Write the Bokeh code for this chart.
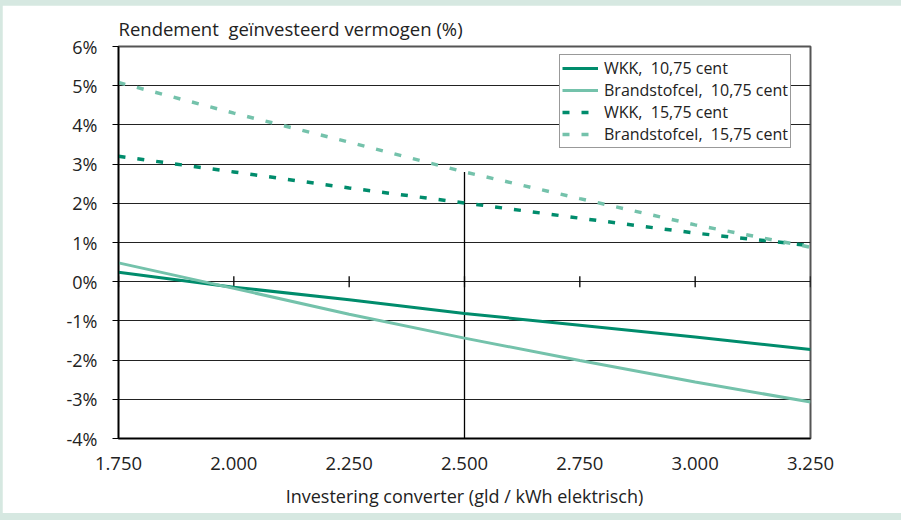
from bokeh.plotting import figure
from bokeh.layouts import column
from bokeh.models import Range1d, FixedTicker, PrintfTickFormatter, Legend, LegendItem
from bokeh.embed import file_html
from bokeh.resources import INLINE

# ---- data ----
x_invest = [1750, 2000, 2250, 2500, 2750, 3000, 3250]
wkk_1075 = [0.24, -0.14, -0.46, -0.81, -1.11, -1.41, -1.73]
bc_1075 = [0.48, -0.17, -0.83, -1.44, -2.01, -2.56, -3.07]
wkk_1575 = [3.20, 2.80, 2.39, 2.01, 1.62, 1.24, 0.92]
bc_1575 = [5.08, 4.30, 3.56, 2.80, 2.12, 1.45, 0.88]

x_ticks = [1750, 2000, 2250, 2500, 2750, 3000, 3250]
x_tick_labels = ["1.750", "2.000", "2.250", "2.500", "2.750", "3.000", "3.250"]
y_ticks = [-4, -3, -2, -1, 0, 1, 2, 3, 4, 5, 6]

title_text = "Rendement\u00a0 geïnvesteerd vermogen (%)"
x_title = "Investering converter (gld / kWh elektrisch)"
names = ["WKK,  10,75 cent", "Brandstofcel,  10,75 cent", "WKK,  15,75 cent", "Brandstofcel,  15,75 cent"]

DARK = "#008c6c"
LIGHT = "#74c2ab"
FONT = "Open Sans"
TXT = "#222222"

p = figure(width=899, height=508, output_backend="svg", toolbar_location=None,
           x_range=Range1d(1750, 3250), y_range=Range1d(-4, 6),
           min_border_left=116, min_border_right=91, min_border_top=41, min_border_bottom=75)
p.background_fill_color = "white"
p.border_fill_color = "white"
p.outline_line_color = "#555555"
p.outline_line_width = 2

p.title.text = title_text
p.title.align = "left"
p.title.text_font = FONT
p.title.text_font_size = "18.5px"
p.title.text_font_style = "normal"
p.title.text_color = TXT
p.title.offset = 0
p.title.standoff = 11

# axes
p.xaxis.ticker = FixedTicker(ticks=x_ticks)
p.xaxis.major_label_overrides = {t: l for t, l in zip(x_ticks, x_tick_labels)}
p.xaxis.major_tick_out = 0
p.xaxis.major_tick_in = 0
p.xaxis.minor_tick_line_color = None
p.xaxis.axis_line_color = "black"
p.xaxis.axis_line_width = 1.5
p.xaxis.major_label_text_font = FONT
p.xaxis.major_label_text_font_size = "18.5px"
p.xaxis.major_label_text_color = TXT
p.xaxis.major_label_standoff = 18
p.xaxis.axis_label = x_title
p.xaxis.axis_label_text_font = FONT
p.xaxis.axis_label_text_font_size = "18px"
p.xaxis.axis_label_text_font_style = "normal"
p.xaxis.axis_label_text_color = TXT
p.xaxis.axis_label_standoff = 11

p.yaxis.ticker = FixedTicker(ticks=y_ticks)
p.yaxis.formatter = PrintfTickFormatter(format="%d%%")
p.yaxis.major_tick_out = 6
p.yaxis.major_tick_in = 0
p.yaxis.minor_tick_line_color = None
p.yaxis.axis_line_color = "black"
p.yaxis.axis_line_width = 1.5
p.yaxis.major_tick_line_color = "black"
p.yaxis.major_label_text_font = FONT
p.yaxis.major_label_text_font_size = "18px"
p.yaxis.major_label_text_color = TXT
p.yaxis.major_label_standoff = 15

p.xgrid.grid_line_color = None
p.ygrid.ticker = FixedTicker(ticks=y_ticks)
p.ygrid.grid_line_color = "#222222"
p.ygrid.grid_line_width = 1.2

# tick marks on the 0% line
p.segment(x0=x_ticks, x1=x_ticks, y0=[-0.14] * len(x_ticks), y1=[0.14] * len(x_ticks),
          line_color="black", line_width=1.3)

# vertical drop line at 2.500
i2500 = x_invest.index(2500)
p.segment(x0=[2500], x1=[2500], y0=[-4], y1=[bc_1575[i2500]], line_color="black", line_width=1.3)

r1 = p.line(x_invest, wkk_1075, line_color=DARK, line_width=3)
r2 = p.line(x_invest, bc_1075, line_color=LIGHT, line_width=3)
r3 = p.line(x_invest, wkk_1575, line_color=DARK, line_width=3.5, line_dash="7 12")
r4 = p.line(x_invest, bc_1575, line_color=LIGHT, line_width=3.5, line_dash="7 12")

legend = Legend(items=[LegendItem(label=n, renderers=[r]) for n, r in zip(names, [r1, r2, r3, r4])],
                location=(441, 290))
legend.label_text_font = FONT
legend.label_text_font_size = "16px"
legend.label_text_color = TXT
legend.glyph_width = 36
legend.glyph_height = 20
legend.label_height = 20
legend.label_standoff = 6
legend.spacing = 0
legend.padding = 2
legend.margin = 0
legend.border_line_color = "#333333"
legend.border_line_width = 1.5
legend.background_fill_alpha = 1
p.add_layout(legend, "center")

page = column(p, styles={"background-color": "#d6e8e1", "padding": "5px 0px 7px 2px"})
open("out.html", "w").write(file_html(page, INLINE))
